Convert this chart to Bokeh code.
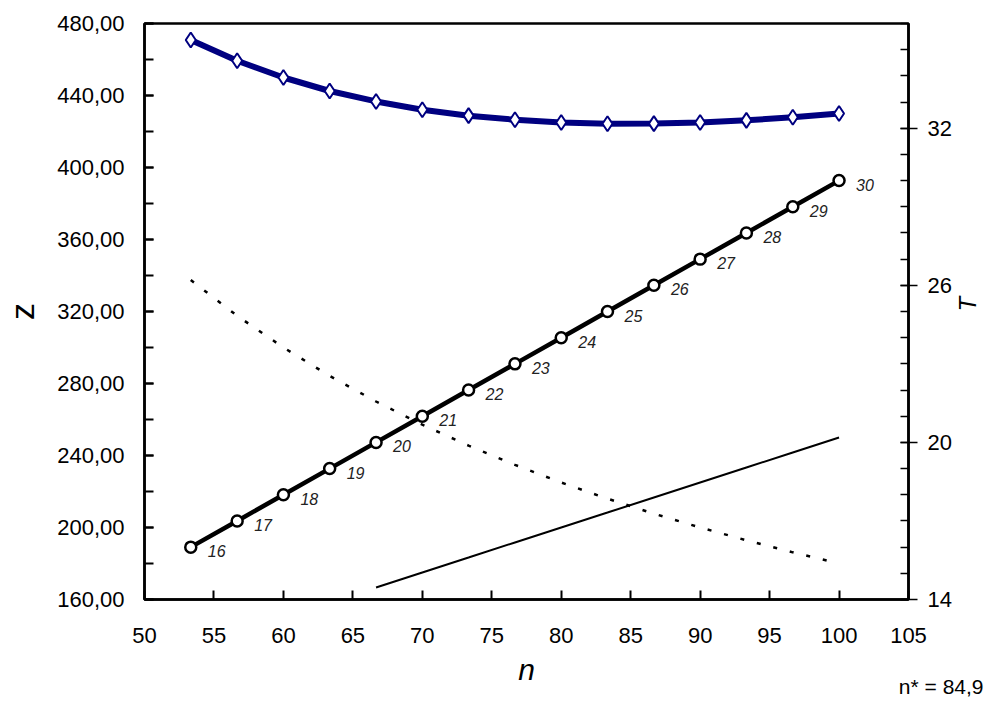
import math
from bokeh.plotting import figure
from bokeh.models import Range1d, LinearAxis, FixedTicker, ColumnDataSource, Title
from bokeh.core.properties import value
from bokeh.embed import file_html
from bokeh.resources import INLINE

# ---------------- data ----------------
n_vals = [53.33, 56.67, 60.0, 63.33, 66.67, 70.0, 73.33, 76.67, 80.0, 83.33,
          86.67, 90.0, 93.33, 96.67, 100.0]
T_vals = [16, 17, 18, 19, 20, 21, 22, 23, 24, 25, 26, 27, 28, 29, 30]
T_labels = [str(t) for t in T_vals]
z_total = [470.8, 459.3, 450.0, 442.5, 436.7, 432.1, 428.8, 426.5, 425.0, 424.3,
           424.4, 425.0, 426.2, 427.9, 430.0]
z_falling = [337.5, 317.6, 300.0, 284.2, 270.0, 257.1, 245.5, 234.8, 225.0, 216.0,
             207.7, 200.0, 192.9, 186.2, 180.0]
n_rising = [66.67, 70.0, 73.33, 76.67, 80.0, 83.33, 86.67, 90.0, 93.33, 96.67, 100.0]
z_rising = [166.7, 175.0, 183.3, 191.7, 200.0, 208.3, 216.7, 225.0, 233.3, 241.7, 250.0]

x_ticks = [50, 55, 60, 65, 70, 75, 80, 85, 90, 95, 100, 105]
z_ticks = [160, 200, 240, 280, 320, 360, 400, 440, 480]
z_tick_labels = ["160,00", "200,00", "240,00", "280,00", "320,00", "360,00",
                 "400,00", "440,00", "480,00"]
z_minor = [160 + 20 * i for i in range(17)]
T_ticks = [14, 20, 26, 32]
T_minor = list(range(14, 37))
n_star_text = "n* = 84,9"

# ---------------- layout ----------------
W, H = 997, 703
FONT = "Liberation Sans"

p = figure(width=W, height=H, output_backend="svg", toolbar_location=None,
           x_range=Range1d(50, 105), y_range=Range1d(160, 480),
           min_border_left=144, min_border_right=84, min_border_top=23,
           min_border_bottom=104)
p.extra_y_ranges = {"T": Range1d(14, 36)}
p.xgrid.visible = False
p.ygrid.visible = False
p.outline_line_color = "black"
p.outline_line_width = 2.5
p.background_fill_color = "white"
p.border_fill_color = "white"

# x axis
xa = p.xaxis[0]
xa.ticker = FixedTicker(ticks=x_ticks, minor_ticks=[])
xa.major_tick_in = 9
xa.major_tick_out = 0
xa.minor_tick_in = 0
xa.minor_tick_out = 0
xa.axis_line_width = 2.5
xa.major_tick_line_width = 2
xa.major_label_text_font = FONT
xa.major_label_text_font_size = "22px"
xa.major_label_text_color = "black"
xa.major_label_standoff = 28
xa.axis_label = "n"
xa.axis_label_text_font = FONT
xa.axis_label_text_font_style = "italic"
xa.axis_label_text_font_size = "30px"
xa.axis_label_text_color = "black"
xa.axis_label_standoff = 7

# left axis
ya = p.yaxis[0]
ya.ticker = FixedTicker(ticks=z_ticks, minor_ticks=z_minor)
ya.major_label_overrides = dict(zip(z_ticks, z_tick_labels))
ya.major_tick_in = 9
ya.major_tick_out = 0
ya.minor_tick_in = 9
ya.minor_tick_out = 0
ya.axis_line_width = 2.5
ya.major_tick_line_width = 2
ya.minor_tick_line_width = 2
ya.major_label_text_font = FONT
ya.major_label_text_font_size = "22px"
ya.major_label_text_color = "black"
ya.major_label_standoff = 20
ya.axis_label = "z"
ya.axis_label_text_font = FONT
ya.axis_label_text_font_style = "normal"
ya.axis_label_text_font_size = "34px"
ya.axis_label_text_color = "black"
ya.axis_label_standoff = 13

# right axis
ra = LinearAxis(y_range_name="T")
ra.ticker = FixedTicker(ticks=T_ticks, minor_ticks=T_minor)
ra.major_tick_in = 8
ra.major_tick_out = 9
ra.minor_tick_in = 8
ra.minor_tick_out = 0
ra.axis_line_width = 2.5
ra.major_tick_line_width = 1.5
ra.minor_tick_line_width = 1.5
ra.major_label_text_font = FONT
ra.major_label_text_font_size = "22px"
ra.major_label_text_color = "black"
ra.major_label_standoff = 10
ra.axis_label = "T"
ra.axis_label_text_font = FONT
ra.axis_label_text_font_style = "italic"
ra.axis_label_text_font_size = "24px"
ra.axis_label_text_color = "black"
ra.axis_label_standoff = 13
try:
    ra.axis_label_orientation = math.pi / 2
except Exception:
    pass
p.add_layout(ra, "right")

# bottom-right note
note = Title(text=n_star_text, align="right", offset=-75, standoff=-28,
             vertical_align="top",
             text_font=FONT, text_font_style="normal", text_font_size="21px",
             text_color="black")
p.add_layout(note, "below")

# ---------------- series ----------------
p.line(n_vals, z_falling, line_color="black", line_width=2.5, line_dash="4 13")
p.line(n_rising, z_rising, line_color="black", line_width=2)

p.line(n_vals, z_total, line_color="#000080", line_width=6)
p.scatter(n_vals, z_total, marker="diamond", size=15, fill_color="white",
          line_color="#000080", line_width=2)

src_T = ColumnDataSource(dict(n=n_vals, T=T_vals, lab=T_labels))
p.line("n", "T", source=src_T, y_range_name="T", line_color="black", line_width=4.5)
p.scatter("n", "T", source=src_T, y_range_name="T", marker="circle", size=11,
          fill_color="white", line_color="black", line_width=2.5)
p.text("n", "T", text="lab", source=src_T, y_range_name="T",
       x_offset=17, y_offset=4, text_align="left", text_baseline="middle",
       text_font=value(FONT), text_font_style="italic",
       text_font_size="16px", text_color="#222222")

open("out.html", "w").write(file_html(p, INLINE))
